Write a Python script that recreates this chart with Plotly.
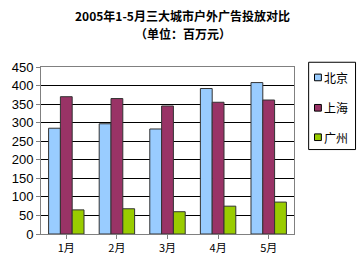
import plotly.graph_objects as go

months = ["1月", "2月", "3月", "4月", "5月"]
beijing = [285, 297, 283, 392, 408]
shanghai = [370, 365, 345, 355, 361]
guangzhou = [65, 68, 60, 75, 86]
series_names = ["北京", "上海", "广州"]
colors = ["#99CCFF", "#993366", "#99CC00"]
y_ticks = [0, 50, 100, 150, 200, 250, 300, 350, 400, 450]

font_family = "Liberation Sans, Arial, Noto Sans CJK SC, sans-serif"
cjk = "Noto Sans CJK SC, sans-serif"

W, H = 359, 267
L, R, T, B = 35, 65, 67, 24
pw, ph = W - L - R, H - T - B

def px(x):
    return (x - L) / pw

def py(y):
    return (H - B - y) / ph

fig = go.Figure()
for name, vals, col in zip(series_names, [beijing, shanghai, guangzhou], colors):
    fig.add_trace(go.Bar(
        x=months, y=vals, name=name,
        marker=dict(color=col, line=dict(color="#333333", width=1)),
        showlegend=False,
    ))

annotations = [
    dict(text="<b>2005年1-5月三大城市户外广告投放对比</b>", x=px(180), y=py(13),
         xref="paper", yref="paper", showarrow=False, xanchor="center", yanchor="middle",
         font=dict(family=cjk, size=12, color="black")),
    dict(text="<b>（单位：百万元）</b>", x=px(180), y=py(32),
         xref="paper", yref="paper", showarrow=False, xanchor="center", yanchor="middle",
         font=dict(family=cjk, size=12, color="black")),
]
shapes = [
    dict(type="rect", xref="paper", yref="paper", x0=px(309), x1=px(357), y0=py(154), y1=py(62),
         line=dict(color="black", width=1), fillcolor="white"),
]
legend_y = [78, 110, 141]
for name, col, ly in zip(series_names, colors, legend_y):
    shapes.append(dict(type="rect", xref="paper", yref="paper",
                       x0=px(315), x1=px(322), y0=py(ly + 3.5), y1=py(ly - 3.5),
                       line=dict(color="black", width=1), fillcolor=col))
    annotations.append(dict(text=name, x=px(323), y=py(ly), xref="paper", yref="paper",
                            showarrow=False, xanchor="left", yanchor="middle",
                            font=dict(family=cjk, size=12, color="black")))

fig.update_layout(
    width=W, height=H,
    margin=dict(l=L, r=R, t=T, b=B),
    paper_bgcolor="white", plot_bgcolor="white",
    barmode="group", bargap=0.3, bargroupgap=0,
    font=dict(family=font_family, size=12, color="black"),
    showlegend=False,
    annotations=annotations,
    shapes=shapes,
    xaxis=dict(
        showgrid=False, showline=True, linecolor="#808080", mirror=True,
        ticks="outside", ticklen=4, tickcolor="#808080",
        tickfont=dict(family=cjk, size=11),
    ),
    yaxis=dict(
        range=[0, 450], tickvals=y_ticks,
        showgrid=True, gridcolor="black", gridwidth=1,
        showline=True, linecolor="#808080", mirror=True,
        ticks="outside", ticklen=4, tickcolor="#808080",
        tickfont=dict(size=13),
        zeroline=False,
    ),
)

fig.write_html("out.html")
